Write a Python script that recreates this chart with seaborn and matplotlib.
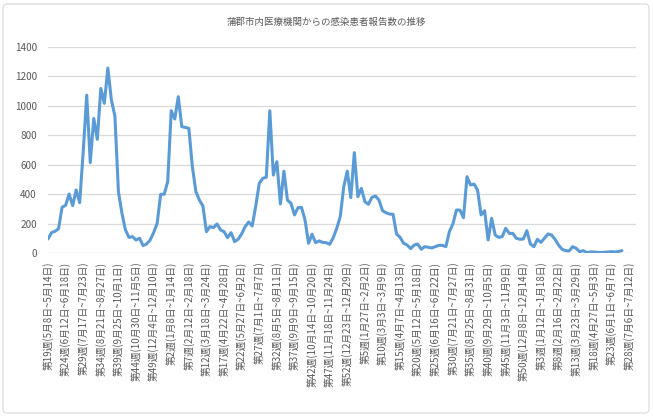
import numpy as np
import matplotlib
matplotlib.use('Agg')
import matplotlib.pyplot as plt
import seaborn as sns
from matplotlib.patches import FancyBboxPatch
from matplotlib.transforms import IdentityTransform

title = '蒲郡市内医療機関からの感染患者報告数の推移'

# weekly reports, one value per week starting at 2023 week 19
reports = [97, 140, 149, 167, 312, 325, 402, 323, 429, 343,
           690, 1072, 614, 914, 772, 1117, 1016, 1255, 1038, 930,
           418, 271, 158, 108, 113, 90, 102, 52, 63, 90,
           140, 203, 400, 400, 485, 966, 910, 1061, 858, 853,
           847, 587, 418, 361, 320, 147, 181, 174, 199, 158,
           147, 106, 140, 79, 95, 131, 181, 212, 185, 320,
           474, 508, 515, 966, 530, 621, 334, 557, 361, 339,
           260, 309, 311, 226, 68, 129, 72, 84, 74, 72,
           61, 105, 169, 248, 451, 557, 377, 682, 384, 440,
           350, 332, 379, 388, 361, 289, 275, 266, 264, 131,
           108, 68, 56, 32, 56, 63, 27, 45, 41, 36,
           45, 54, 54, 45, 147, 199, 293, 293, 241, 519,
           463, 469, 429, 260, 289, 90, 237, 124, 108, 113,
           169, 135, 135, 102, 95, 97, 153, 63, 45, 95,
           74, 102, 131, 124, 95, 56, 27, 18, 16, 45,
           34, 11, 18, 5, 9, 9, 7, 5, 7, 9,
           11, 9, 12, 18]

# category axis runs a few weeks past the last report
n_categories = 168

tick_labels = [
    '第19週(5月8日~5月14日)', '第24週(6月12日~6月18日)', '第29週(7月17日~7月23日)',
    '第34週(8月21日~8月27日)', '第39週(9月25日~10月1日)', '第44週(10月30日~11月5日)',
    '第49週(12月4日~12月10日)', '第2週(1月8日~1月14日)', '第7週(2月12日~2月18日)',
    '第12週(3月18日~3月24日)', '第17週(4月22日~4月28日)', '第22週(5月27日~6月2日)',
    '第27週(7月1日~7月7日)', '第32週(8月5日~8月11日)', '第37週(9月9日~9月15日)',
    '第42週(10月14日~10月20日)', '第47週(11月18日~11月24日)', '第52週(12月23日~12月29日)',
    '第5週(1月27日~2月2日)', '第10週(3月3日~3月9日)', '第15週(4月7日~4月13日)',
    '第20週(5月12日~5月18日)', '第25週(6月16日~6月22日)', '第30週(7月21日~7月27日)',
    '第35週(8月25日~8月31日)', '第40週(9月29日~10月5日)', '第45週(11月3日~11月9日)',
    '第50週(12月8日~12月14日)', '第3週(1月12日~1月18日)', '第8週(2月16日~2月22日)',
    '第13週(3月23日~3月29日)', '第18週(4月27日~5月3日)', '第23週(6月1日~6月7日)',
    '第28週(7月6日~7月12日)']

sns.set_style('white')
plt.rcParams['font.family'] = ['Noto Sans CJK JP', 'DejaVu Sans']

text_color = '#595959'
grid_color = '#D9D9D9'

fig = plt.figure(figsize=(6.53, 4.16), dpi=100)
ax = fig.add_axes([48 / 653, 1 - 253.3 / 416, 588 / 653, 206.6 / 416])

weeks = np.arange(len(reports))
sns.lineplot(x=weeks, y=reports, ax=ax, color='#5B9BD5', linewidth=2.2)

ax.set_xlim(0, n_categories - 1)
ax.set_ylim(0, 1400)
ax.set_yticks(np.arange(0, 1401, 200))
ax.set_xticks(np.arange(0, n_categories, 5)[:len(tick_labels)])
ax.set_xticklabels(tick_labels, rotation=90)
ax.yaxis.grid(True, color=grid_color, linewidth=0.9)
ax.set_axisbelow(True)
for side in ['top', 'right', 'left', 'bottom']:
    ax.spines[side].set_visible(False)
ax.tick_params(axis='both', length=0, colors=text_color)
ax.tick_params(axis='y', labelsize=7.2, pad=8)
ax.tick_params(axis='x', labelsize=7.0, pad=6)

fig.text(0.5, 1 - 22 / 416, title, ha='center', va='center',
         fontsize=6.8, color=text_color)

# chart-area border
border = FancyBboxPatch((3, 3), 646, 409, boxstyle='round,pad=0,rounding_size=4',
                        transform=IdentityTransform(), facecolor='none',
                        edgecolor=grid_color, linewidth=0.8)
fig.patches.append(border)

fig.savefig('out.png', dpi=100)
